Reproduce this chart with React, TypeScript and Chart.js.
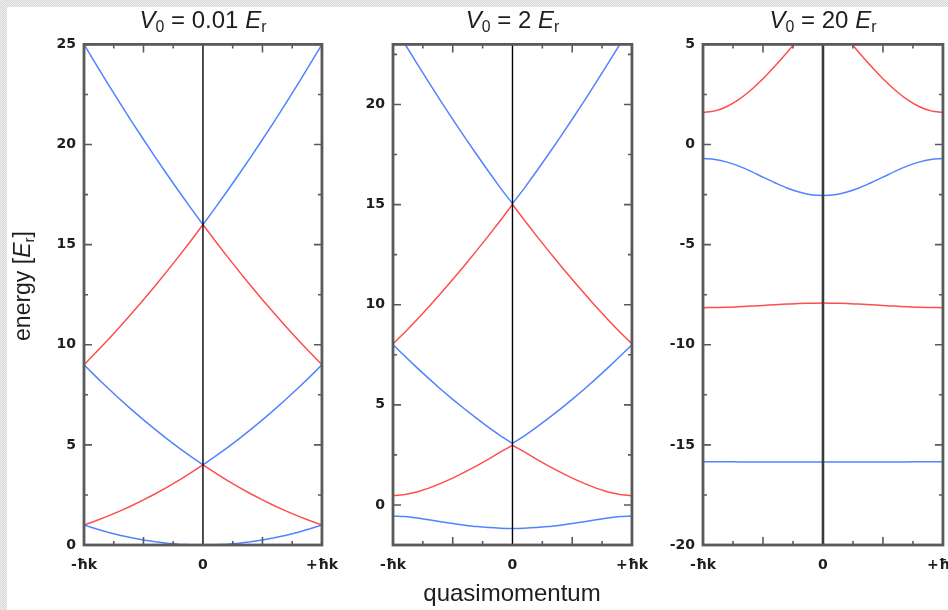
import React, { useEffect, useRef } from 'react';
import { Chart, registerables } from 'chart.js';

Chart.register(...registerables);

// quasimomentum samples (units of ħk)
const Q = [-1, -0.9, -0.8, -0.7, -0.6, -0.5, -0.4, -0.3, -0.2, -0.1, 0, 0.1, 0.2, 0.3, 0.4, 0.5, 0.6, 0.7, 0.8, 0.9, 1];

// Panel 1: V0 = 0.01 Er
const P1_BAND0 = [1, 0.81, 0.64, 0.49, 0.36, 0.25, 0.16, 0.09, 0.04, 0.01, 0, 0.01, 0.04, 0.09, 0.16, 0.25, 0.36, 0.49, 0.64, 0.81, 1];
const P1_BAND1 = [1, 1.21, 1.44, 1.69, 1.96, 2.25, 2.56, 2.89, 3.24, 3.61, 4, 3.61, 3.24, 2.89, 2.56, 2.25, 1.96, 1.69, 1.44, 1.21, 1];
const P1_BAND2 = [9, 8.41, 7.84, 7.29, 6.76, 6.25, 5.76, 5.29, 4.84, 4.41, 4, 4.41, 4.84, 5.29, 5.76, 6.25, 6.76, 7.29, 7.84, 8.41, 9];
const P1_BAND3 = [9, 9.61, 10.24, 10.89, 11.56, 12.25, 12.96, 13.69, 14.44, 15.21, 16, 15.21, 14.44, 13.69, 12.96, 12.25, 11.56, 10.89, 10.24, 9.61, 9];
const P1_BAND4 = [25, 24.01, 23.04, 22.09, 21.16, 20.25, 19.36, 18.49, 17.64, 16.81, 16, 16.81, 17.64, 18.49, 19.36, 20.25, 21.16, 22.09, 23.04, 24.01, 25];

// Panel 2: V0 = 2 Er
const P2_BAND0 = [-0.55, -0.58, -0.65, -0.74, -0.84, -0.93, -1.01, -1.08, -1.13, -1.16, -1.17, -1.16, -1.13, -1.08, -1.01, -0.93, -0.84, -0.74, -0.65, -0.58, -0.55];
const P2_BAND1 = [0.46, 0.52, 0.65, 0.84, 1.08, 1.34, 1.64, 1.95, 2.29, 2.65, 2.98, 2.65, 2.29, 1.95, 1.64, 1.34, 1.08, 0.84, 0.65, 0.52, 0.46];
const P2_BAND2 = [8.0, 7.43, 6.86, 6.31, 5.78, 5.27, 4.79, 4.32, 3.87, 3.45, 3.08, 3.45, 3.87, 4.32, 4.79, 5.27, 5.78, 6.31, 6.86, 7.43, 8.0];
const P2_BAND3 = [8.05, 8.62, 9.25, 9.9, 10.57, 11.26, 11.97, 12.7, 13.45, 14.22, 15.0, 14.22, 13.45, 12.7, 11.97, 11.26, 10.57, 9.9, 9.25, 8.62, 8.05];
const P2_BAND4 = [24.0, 23.02, 22.05, 21.1, 20.17, 19.26, 18.37, 17.5, 16.65, 15.82, 15.05, 15.82, 16.65, 17.5, 18.37, 19.26, 20.17, 21.1, 22.05, 23.02, 24.0];

// Panel 3: V0 = 20 Er
const P3_BAND0 = [-15.84, -15.84, -15.84, -15.85, -15.85, -15.85, -15.85, -15.86, -15.86, -15.86, -15.86, -15.86, -15.86, -15.86, -15.85, -15.85, -15.85, -15.85, -15.84, -15.84, -15.84];
const P3_BAND1 = [-8.15, -8.14, -8.13, -8.1, -8.07, -8.04, -8.0, -7.97, -7.94, -7.93, -7.92, -7.93, -7.94, -7.97, -8.0, -8.04, -8.07, -8.1, -8.13, -8.14, -8.15];
const P3_BAND2 = [-0.7, -0.75, -0.88, -1.08, -1.34, -1.63, -1.91, -2.17, -2.37, -2.51, -2.55, -2.51, -2.37, -2.17, -1.91, -1.63, -1.34, -1.08, -0.88, -0.75, -0.7];
const P3_BAND3 = [1.6, 1.68, 1.9, 2.25, 2.72, 3.28, 3.92, 4.6, 5.3, 5.9, 6.2, 5.9, 5.3, 4.6, 3.92, 3.28, 2.72, 2.25, 1.9, 1.68, 1.6];

// ticks
const X_TICKS = [-1, 0, 1];
const X_TICK_LABELS = ['-ħk', '0', '+ħk'];
const X_HALF_TICKS = [-0.5, 0.5];
const X_QUARTER_TICKS = [-0.75, -0.25, 0.25, 0.75];

const P1_Y_TICKS = [0, 5, 10, 15, 20, 25];
const P1_Y_MINOR = [2.5, 7.5, 12.5, 17.5, 22.5];
const P2_Y_TICKS = [0, 5, 10, 15, 20];
const P2_Y_MINOR = [2.5, 7.5, 12.5, 17.5, 22.5];
const P3_Y_TICKS = [-20, -15, -10, -5, 0, 5];
const P3_Y_MINOR = [-17.5, -12.5, -7.5, -2.5, 2.5];

const P1_RANGE = [0, 25];
const P2_RANGE = [-2, 23];
const P3_RANGE = [-20, 5];

const BLUE = '#4f84ff';
const RED = '#ff4d4d';
const FRAME = '#5a5a5a';
const TEXT = '#1e1e1e';

const Y_AXIS_W = 50;
const PAD_R = 22;
const EXTRA_R = 6;
const PAD_T = 7;
const CANVAS_TOP = 28;
const X_AXIS_H = 34;
const PLOT_BOTTOM = 545;

type Band = { data: number[]; color: string; smooth?: boolean };
type PanelDef = {
  left: number;
  right: number;
  range: number[];
  yTicks: number[];
  yMinor: number[];
  bands: Band[];
  centerWidth: number;
  centerColor: string;
};

const PANELS: PanelDef[] = [
  {
    left: 84, right: 322, range: P1_RANGE, yTicks: P1_Y_TICKS, yMinor: P1_Y_MINOR,
    bands: [
      { data: P1_BAND0, color: BLUE }, { data: P1_BAND1, color: RED }, { data: P1_BAND2, color: BLUE },
      { data: P1_BAND3, color: RED }, { data: P1_BAND4, color: BLUE },
    ],
    centerWidth: 1.4, centerColor: '#000',
  },
  {
    left: 393, right: 632, range: P2_RANGE, yTicks: P2_Y_TICKS, yMinor: P2_Y_MINOR,
    bands: [
      { data: P2_BAND0, color: BLUE, smooth: true }, { data: P2_BAND1, color: RED }, { data: P2_BAND2, color: BLUE },
      { data: P2_BAND3, color: RED }, { data: P2_BAND4, color: BLUE },
    ],
    centerWidth: 1.4, centerColor: '#000',
  },
  {
    left: 703, right: 943, range: P3_RANGE, yTicks: P3_Y_TICKS, yMinor: P3_Y_MINOR,
    bands: [
      { data: P3_BAND0, color: BLUE, smooth: true }, { data: P3_BAND1, color: RED, smooth: true },
      { data: P3_BAND2, color: BLUE, smooth: true }, { data: P3_BAND3, color: RED, smooth: true },
    ],
    centerWidth: 2.6, centerColor: '#3a3a3a',
  },
];

function makeFramePlugin(def: PanelDef) {
  return {
    id: 'frame',
    afterDatasetsDraw(chart: any) {
      const { ctx, chartArea: a, scales } = chart;
      const x = scales.x;
      const y = scales.y;
      ctx.save();
      const cx = x.getPixelForValue(0);
      ctx.strokeStyle = def.centerColor;
      ctx.lineWidth = def.centerWidth;
      ctx.beginPath();
      ctx.moveTo(cx, a.top);
      ctx.lineTo(cx, a.bottom);
      ctx.stroke();
      ctx.strokeStyle = FRAME;
      ctx.lineWidth = 1.6;
      ctx.beginPath();
      const yt = (vals: number[], len: number) => {
        for (const v of vals) {
          const py = y.getPixelForValue(v);
          ctx.moveTo(a.left, py); ctx.lineTo(a.left + len, py);
          ctx.moveTo(a.right, py); ctx.lineTo(a.right - len, py);
        }
      };
      const xt = (vals: number[], len: number) => {
        for (const v of vals) {
          const px = x.getPixelForValue(v);
          ctx.moveTo(px, a.top); ctx.lineTo(px, a.top + len);
          ctx.moveTo(px, a.bottom); ctx.lineTo(px, a.bottom - len);
        }
      };
      yt(def.yTicks, 8);
      yt(def.yMinor, 4);
      xt(X_HALF_TICKS, 8);
      xt(X_QUARTER_TICKS, 4);
      ctx.stroke();
      ctx.lineWidth = 2.8;
      ctx.strokeRect(a.left, a.top, a.right - a.left, a.bottom - a.top);
      ctx.restore();
    },
  };
}

function Panel({ def }: { def: PanelDef }) {
  const ref = useRef<HTMLCanvasElement>(null);
  const width = def.right - def.left + Y_AXIS_W + PAD_R + EXTRA_R;
  const height = PLOT_BOTTOM + X_AXIS_H - CANVAS_TOP;

  useEffect(() => {
    if (!ref.current) return;
    const chart = new Chart(ref.current, {
      type: 'line',
      data: {
        datasets: def.bands.map((b) => ({
          data: Q.map((q, i) => ({ x: q, y: b.data[i] })),
          borderColor: b.color,
          borderWidth: 1.5,
          pointRadius: 0,
          tension: 0,
          cubicInterpolationMode: b.smooth ? 'monotone' : 'default',
          fill: false,
          clip: 0,
        })),
      },
      options: {
        animation: false,
        responsive: false,
        devicePixelRatio: 1,
        layout: { padding: { top: PAD_T, right: PAD_R, left: 0, bottom: 0 } },
        plugins: { legend: { display: false }, tooltip: { enabled: false }, title: { display: false } },
        scales: {
          x: {
            type: 'linear',
            min: -1,
            max: 1,
            afterBuildTicks: (s: any) => {
              s.ticks = X_TICKS.map((v) => ({ value: v }));
            },
            afterFit: (s: any) => {
              s.height = X_AXIS_H;
            },
            ticks: {
              autoSkip: false,
              maxRotation: 0,
              minRotation: 0,
              padding: 12,
              color: TEXT,
              font: { family: 'DejaVu Sans', size: 14, weight: 'bold' },
              callback: (v: any) => {
                const i = X_TICKS.indexOf(Number(v));
                return i >= 0 ? X_TICK_LABELS[i] : '';
              },
            },
            grid: { display: false, drawTicks: false },
            border: { display: false },
          },
          y: {
            type: 'linear',
            min: def.range[0],
            max: def.range[1],
            afterBuildTicks: (s: any) => {
              s.ticks = def.yTicks.map((v) => ({ value: v }));
            },
            afterFit: (s: any) => {
              s.width = Y_AXIS_W;
            },
            ticks: {
              padding: 8,
              color: TEXT,
              font: { family: 'DejaVu Sans', size: 14, weight: 'bold' },
              callback: (v: any) => String(v),
            },
            grid: { display: false, drawTicks: false },
            border: { display: false },
          },
        },
      } as any,
      plugins: [makeFramePlugin(def)],
    });
    return () => chart.destroy();
  }, [def]);

  return (
    <canvas
      ref={ref}
      width={width}
      height={height}
      style={{ position: 'absolute', left: def.left - Y_AXIS_W, top: CANVAS_TOP, width, height }}
    />
  );
}

const TITLE_VALUES = ['0.01', '2', '20'];

const FONT = '"Liberation Sans", Arial, Helvetica, sans-serif';
const subStyle: React.CSSProperties = { fontSize: '0.66em', position: 'relative', top: '0.28em', verticalAlign: 'baseline' };

export default function App() {
  return (
    <div
      style={{
        position: 'absolute',
        left: 0,
        top: 0,
        width: 948,
        height: 610,
        overflow: 'hidden',
        background: 'repeating-conic-gradient(#d4d4d4 0% 25%, #f3f3f3 0% 50%) 0 0 / 2px 2px',
        fontFamily: FONT,
        color: TEXT,
      }}
    >
      <div style={{ position: 'absolute', left: 7, top: 7, right: 0, bottom: 0, background: '#fff' }} />
      {PANELS.map((p, i) => (
        <Panel key={i} def={p} />
      ))}
      {PANELS.map((p, i) => (
        <div
          key={'t' + i}
          style={{
            position: 'absolute',
            left: p.left - 40,
            width: p.right - p.left + 80,
            top: 6,
            height: 28,
            lineHeight: '28px',
            textAlign: 'center',
            fontSize: 24,
            whiteSpace: 'nowrap',
          }}
        >
          <i>V</i>
          <span style={subStyle}>0</span> = {TITLE_VALUES[i]} <i>E</i>
          <span style={subStyle}>r</span>
        </div>
      ))}
      <div
        style={{
          position: 'absolute',
          left: 22 - 100,
          top: 286 - 14,
          width: 200,
          height: 28,
          lineHeight: '28px',
          textAlign: 'center',
          fontSize: 23,
          transform: 'rotate(-90deg)',
          whiteSpace: 'nowrap',
        }}
      >
        energy [<i>E</i>
        <span style={subStyle}>r</span>]
      </div>
      <div
        style={{
          position: 'absolute',
          left: 412,
          width: 200,
          top: 578,
          height: 30,
          lineHeight: '30px',
          textAlign: 'center',
          fontSize: 24,
          whiteSpace: 'nowrap',
        }}
      >
        quasimomentum
      </div>
    </div>
  );
}
